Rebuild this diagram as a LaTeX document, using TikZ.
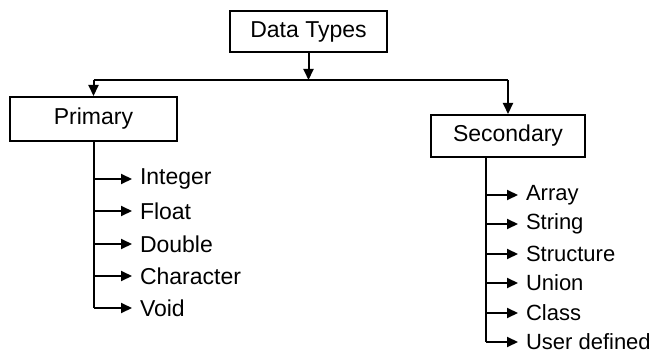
\documentclass[tikz,border=0pt]{standalone}
\usepackage{fontspec}
\setmainfont{Liberation Sans}
\usetikzlibrary{arrows.meta}
\begin{document}
\begin{tikzpicture}[x=1pt,y=-1pt,
  line width=2pt,
  tip/.style={-{Triangle[length=11pt,width=10pt]}},
  box/.style={draw,rectangle,inner sep=0pt,font=\fontsize{23}{26}\selectfont},
  item/.style={anchor=west,inner xsep=7pt,inner ysep=0pt,font=\fontsize{23}{26}\selectfont},
  sitem/.style={item,font=\fontsize{22}{25}\selectfont}]
\useasboundingbox (0,0) rectangle (655,358);

% boxes
\node[box,minimum width=157pt,minimum height=41pt] (dt)  at (308.5,31.5) {Data Types};
\node[box,minimum width=167pt,minimum height=44pt] (pri) at (93.5,119)   {Primary};
\node[box,minimum width=154pt,minimum height=42pt] (sec) at (508,136)    {Secondary};

% trunk joining the two branches
\coordinate (jl) at (pri.north |- 0,80);
\coordinate (jr) at (sec.north |- 0,80);
\draw (jl) -- (jr);
\draw[tip] (dt.south) -- (dt.south |- jl);
\draw[tip] (jl) -- (pri.north);
\draw[tip] (jr) -- (sec.north);

% primary types
\node[item] (int)  at (132,179) {Integer};
\node[item] (flt)  at (132,211) {Float};
\node[item] (dbl)  at (132,244) {Double};
\node[item] (chr)  at (132,276) {Character};
\node[item] (void) at (132,308) {Void};
\draw (pri.south) -- (pri.south |- void.west);
\foreach \n in {int,flt,dbl,chr,void}
  \draw[tip] (pri.south |- \n.west) -- (\n.west);

% secondary types
\node[sitem] (arr) at (518,195) {Array};
\node[sitem] (str) at (518,224) {String};
\node[sitem] (stc) at (518,254) {Structure};
\node[sitem] (uni) at (518,283) {Union};
\node[sitem] (cls) at (518,313) {Class};
\node[sitem] (usr) at (518,342) {User defined};
\coordinate (sv) at (486,0);
\draw (sv |- sec.south) -- (sv |- usr.west);
\foreach \n in {arr,str,stc,uni,cls,usr}
  \draw[tip] (sv |- \n.west) -- (\n.west);
\end{tikzpicture}
\end{document}
